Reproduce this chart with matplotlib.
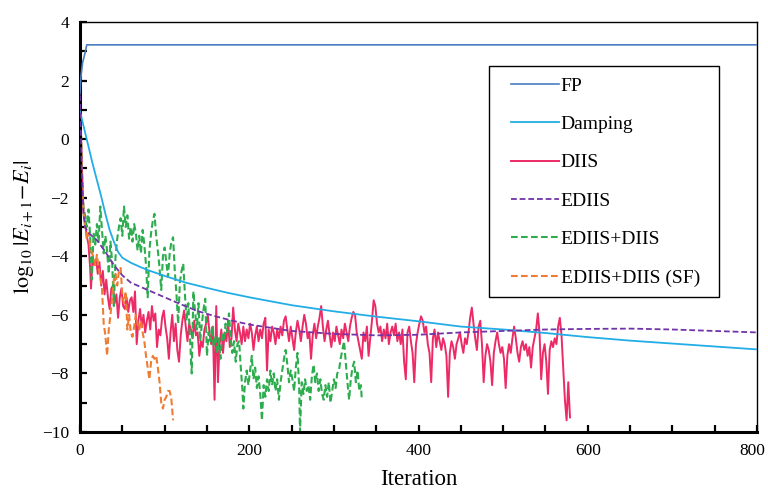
import numpy as np
import matplotlib
matplotlib.use("Agg")
import matplotlib.pyplot as plt
import matplotlib.transforms as mtransforms
from matplotlib.ticker import MultipleLocator
from matplotlib.patches import Rectangle

plt.rcParams['font.family'] = ['Liberation Serif', 'DejaVu Serif']
plt.rcParams['mathtext.fontset'] = 'stix'

# ---------------- data ----------------
fp_x = [0, 1, 3, 6, 8, 800]
fp_y = [1.55, 2.1, 2.6, 2.95, 3.22, 3.22]

damp_x = [0, 5, 10, 15, 20, 25, 30, 35, 40, 45, 50, 60, 70, 80, 100, 125, 150, 175, 200,
          250, 300, 350, 400, 450, 500, 550, 600, 650, 700, 750, 800]
damp_y = [0.95, 0.35, -0.25, -0.85, -1.4, -1.95, -2.55, -3.1, -3.5, -3.85, -4.05, -4.22, -4.35,
          -4.47, -4.67, -4.9, -5.08, -5.25, -5.4, -5.67, -5.88, -6.06, -6.22, -6.4, -6.5, -6.62,
          -6.76, -6.88, -6.98, -7.08, -7.18]

ediis_x = [0, 2, 4, 6, 10, 20, 30, 40, 50, 60, 80, 100, 120, 140, 160, 180, 200, 250, 300,
           350, 400, 450, 500, 550, 600, 650, 700, 750, 800]
ediis_y = [1.5, -1.0, -2.5, -3.0, -3.2, -3.45, -3.85, -4.3, -4.65, -4.9, -5.15, -5.4, -5.65,
           -5.88, -6.05, -6.2, -6.33, -6.55, -6.65, -6.7, -6.68, -6.6, -6.55, -6.5, -6.48,
           -6.47, -6.5, -6.55, -6.6]

diis_x = [0, 2, 4, 6, 8, 10, 12, 13, 15, 17, 19, 21, 23, 25, 27, 29, 31, 33, 35, 37, 39,
          41, 43, 45, 47, 49, 51, 53, 55, 57, 59, 61, 63, 65, 67, 69, 71, 73, 75, 77, 79,
          81, 83, 85, 87, 89, 91, 93, 95, 97, 99, 101, 103, 105, 107, 109, 111, 113, 115,
          117, 119, 121, 123, 125, 127, 129, 131, 133, 135, 137, 139, 141, 143, 145, 147,
          149, 151, 153, 155, 157, 159, 161, 163, 165, 167, 169, 171, 173, 175, 177, 179,
          181, 183, 185, 187, 189, 191, 193, 195, 197, 199, 201, 203, 205, 207, 209, 211,
          213, 215, 217, 219, 221, 223, 225, 227, 229, 231, 233, 235, 237, 239, 241, 243,
          245, 247, 249, 251, 253, 255, 257, 259, 261, 263, 265, 267, 269, 271, 273, 275,
          277, 279, 281, 283, 285, 287, 289, 291, 293, 295, 297, 299, 301, 303, 305, 307,
          309, 311, 313, 315, 317, 319, 321, 323, 325, 327, 329, 331, 333, 335, 337, 339,
          341, 343, 345, 347, 349, 351, 353, 355, 357, 359, 361, 363, 365, 367, 369, 371,
          373, 375, 377, 379, 381, 383, 385, 387, 389, 391, 393, 395, 397, 399, 401, 403,
          405, 407, 409, 411, 413, 415, 417, 419, 421, 423, 425, 427, 429, 431, 433, 435,
          437, 439, 441, 443, 445, 447, 449, 451, 453, 455, 457, 459, 461, 463, 465, 467,
          469, 471, 473, 475, 477, 479, 481, 483, 485, 487, 489, 491, 493, 495, 497, 499,
          501, 503, 505, 507, 509, 511, 513, 515, 517, 519, 521, 523, 525, 527, 529, 531,
          533, 535, 537, 539, 541, 543, 545, 547, 549, 551, 553, 555, 557, 559, 561, 563,
          565, 567, 569, 571, 573, 575, 577, 579]
diis_y = [1.6, -0.8, -2.4, -2.9, -3.3, -3.6, -4.4, -5.1, -4.0, -4.3, -4.1, -4.6, -4.2, -5.0,
          -4.5, -5.3, -4.8, -5.4, -5.8, -5.1, -5.0, -5.6, -5.3, -6.1, -5.4, -5.1, -5.7, -5.8,
          -5.4, -5.9, -5.5, -5.4, -5.9, -5.2, -7.0, -6.2, -5.8, -6.4, -6.0, -6.6, -6.2, -5.9,
          -6.5, -5.7, -6.2, -5.95, -7.1, -6.5, -6.7, -6.1, -5.85, -6.4, -6.8, -7.5, -6.6,
          -6.0, -6.9, -6.3, -7.2, -7.6, -6.7, -6.2, -5.85, -6.4, -6.9, -6.3, -6.5, -6.8,
          -6.2, -6.7, -6.6, -7.4, -6.9, -7.1, -6.5, -6.3, -6.0, -6.6, -7.0, -6.4, -8.9,
          -5.7, -8.3, -7.0, -6.5, -7.3, -6.6, -6.9, -6.2, -7.1, -6.8, -5.75, -6.5, -6.9,
          -6.3, -6.6, -7.0, -6.4, -6.9, -6.5, -6.8, -6.3, -6.6, -7.2, -6.7, -6.4, -6.9,
          -6.5, -6.8, -6.3, -6.1, -7.9, -6.5, -6.9, -6.4, -6.6, -7.0, -6.5, -6.8, -6.4,
          -6.7, -6.2, -6.05, -6.5, -6.9, -6.4, -6.8, -7.2, -6.6, -6.2, -6.5, -6.9, -6.4,
          -6.0, -6.3, -6.8, -6.6, -7.5, -6.7, -6.3, -6.8, -6.4, -6.1, -5.7, -6.4, -6.9,
          -6.5, -6.2, -6.7, -7.1, -6.6, -6.9, -6.4, -6.7, -7.0, -6.5, -6.8, -6.3, -6.6,
          -6.9, -6.4, -6.1, -5.9, -6.0, -6.6, -6.9, -7.2, -7.5, -6.6, -6.9, -6.4, -7.4,
          -6.8, -6.2, -5.5, -5.7, -6.3, -6.6, -6.4, -6.9, -6.5, -6.8, -6.3, -7.0, -6.6,
          -6.4, -6.7, -6.3, -6.9, -6.6, -7.0, -6.5, -7.6, -8.2, -6.6, -6.4, -6.9, -7.3,
          -8.3, -7.0, -6.6, -6.3, -6.05, -6.2, -6.6, -6.4, -7.0, -7.3, -8.3, -6.8, -6.5,
          -7.1, -6.6, -6.9, -7.2, -6.8, -7.0, -7.4, -8.8, -7.3, -6.9, -7.1, -7.5, -7.0,
          -6.8, -6.6, -7.0, -7.3, -6.8, -7.0, -6.6, -6.1, -5.75, -6.3, -6.8, -7.2, -6.4,
          -6.2, -7.0, -8.3, -7.4, -7.0, -7.2, -7.6, -8.4, -7.3, -6.9, -6.6, -7.0, -7.3,
          -7.1, -7.5, -8.5, -7.4, -7.0, -7.3, -6.8, -6.4, -6.8, -7.3, -7.6, -7.1, -6.9,
          -7.2, -7.0, -7.4, -7.1, -7.8, -7.1, -6.8, -6.5, -5.95, -6.6, -8.2, -7.3, -7.0,
          -7.6, -8.7, -7.2, -6.9, -7.1, -6.8, -7.0, -6.4, -6.1, -6.7, -7.8, -8.9, -9.6,
          -8.3, -9.5]

hyb_x = [0, 2, 4, 6, 8, 10, 12, 14, 16, 18, 20, 22, 24, 26, 28, 30, 32, 34, 36, 38, 40,
         42, 44, 46, 48, 50, 52, 54, 56, 58, 60, 62, 64, 66, 68, 70, 72, 74, 76, 78, 80,
         82, 84, 86, 88, 90, 92, 94, 96, 98, 100, 102, 104, 106, 108, 110, 112, 114, 116,
         118, 120, 122, 124, 126, 128, 130, 132, 134, 136, 138, 140, 142, 144, 146, 148,
         150, 152, 154, 156, 158, 160, 162, 164, 166, 168, 170, 172, 174, 176, 178, 180,
         182, 184, 186, 188, 190, 192, 193, 195, 197, 199, 201, 203, 205, 207, 209, 211,
         213, 215, 217, 219, 221, 223, 225, 227, 229, 231, 233, 235, 237, 239, 241, 243,
         245, 247, 249, 251, 253, 255, 257, 259, 260, 262, 264, 266, 268, 270, 272, 274,
         276, 278, 280, 282, 284, 286, 288, 290, 292, 294, 296, 298, 300, 302, 304, 306,
         308, 310, 312, 314, 316, 318, 320, 322, 324, 326, 328, 330, 332, 333]
hyb_y = [1.6, -0.9, -2.3, -2.6, -3.0, -2.4, -3.3, -4.8, -3.2, -3.6, -2.9, -3.5, -2.3, -3.1,
         -3.9, -3.3, -3.8, -4.6, -3.5, -4.2, -5.7, -4.0, -3.4, -3.0, -2.7, -3.3, -2.3, -3.0,
         -2.6, -3.4, -3.0, -3.5, -2.9, -3.2, -3.8, -3.3, -3.9, -3.1, -3.6, -4.3, -5.4, -3.8,
         -3.2, -2.8, -2.55, -3.3, -3.8, -4.4, -5.15, -4.0, -3.7, -4.2, -4.7, -3.9, -3.5,
         -3.35, -4.5, -5.3, -6.3, -4.9, -4.5, -4.25, -5.3, -6.2, -5.6, -6.8, -8.0, -5.2,
         -5.9, -6.5, -5.6, -6.9, -6.3, -5.8, -5.45, -7.4, -6.6, -6.9, -6.4, -7.1, -6.7,
         -7.3, -6.8, -7.5, -6.6, -6.9, -6.3, -6.6, -5.95, -6.8, -7.3, -6.9, -7.6, -7.0,
         -6.9, -7.8, -8.6, -9.2, -8.3, -7.9, -8.4, -7.9, -7.4, -8.2, -7.8, -8.5, -8.1,
         -8.7, -9.6, -8.4, -8.8, -8.2, -8.6, -7.9, -8.4, -8.0, -8.6, -8.2, -8.9, -8.3,
         -7.9, -7.5, -7.2, -7.7, -8.3, -7.9, -8.2, -8.6, -7.8, -7.3, -8.5, -10.0, -8.3,
         -8.7, -8.2, -8.6, -8.4, -8.9, -8.1, -7.7, -8.3, -8.0, -8.6, -8.2, -8.7, -8.9,
         -8.4, -8.8, -8.3, -9.0, -8.6, -8.2, -8.5, -8.0, -7.9, -7.5, -7.2, -6.9, -7.6,
         -8.3, -8.9, -8.2, -7.8, -7.6, -8.3, -7.9, -8.6, -8.4, -8.9]

sf_x = [0, 2, 4, 6, 8, 10, 12, 14, 16, 18, 20, 22, 24, 26, 28, 30, 32, 34, 36, 38, 40, 42,
        44, 46, 48, 50, 52, 54, 56, 58, 60, 62, 64, 66, 68, 70, 72, 74, 76, 78, 80, 82, 84,
        86, 88, 90, 92, 94, 96, 98, 100, 102, 104, 106, 108, 110]
sf_y = [1.6, -0.9, -2.5, -3.0, -3.4, -3.2, -3.7, -3.9, -4.0, -4.3, -3.95, -4.4, -4.7, -5.1,
        -6.3, -6.7, -7.4, -6.5, -6.0, -5.4, -4.8, -4.6, -5.0, -4.5, -4.4, -5.3, -5.6, -5.2,
        -6.5, -6.0, -6.6, -6.75, -6.4, -6.0, -6.3, -6.5, -6.2, -6.6, -6.9, -7.4, -7.8,
        -8.2, -7.6, -7.4, -7.5, -7.4, -7.8, -8.3, -9.0, -9.2, -8.9, -8.8, -8.6, -8.6,
        -8.9, -9.6]

labels = ['FP', 'Damping', 'DIIS', 'EDIIS', 'EDIIS+DIIS', 'EDIIS+DIIS (SF)']
colors = ['#4A7EC2', '#22ADE6', '#EC2A66', '#7034A8', '#2DAD4E', '#EE7D33']

x_ticks = [0, 200, 400, 600, 800]
y_ticks = [-10, -8, -6, -4, -2, 0, 2, 4]

# ---------------- plot ----------------
fig = plt.figure(figsize=(7.68, 4.90), dpi=100)
ax = fig.add_axes([80/768, 1-432/490, 677/768, 410/490])

dash = (0, (3.2, 1.6))
ax.plot(fp_x, fp_y, color=colors[0], lw=1.2, label=labels[0], zorder=3)
ax.plot(damp_x, damp_y, color=colors[1], lw=1.3, label=labels[1], zorder=3)
ax.plot(diis_x, diis_y, color=colors[2], lw=1.4, label=labels[2], zorder=2)
ax.plot(ediis_x, ediis_y, color=colors[3], lw=1.3, ls=dash, label=labels[3], zorder=4)
ax.plot(hyb_x, hyb_y, color=colors[4], lw=1.5, ls=dash, label=labels[4], zorder=2)
ax.plot(sf_x, sf_y, color=colors[5], lw=1.5, ls=dash, label=labels[5], zorder=2)

ax.set_xlim(0, 800)
ax.set_ylim(-10, 4)
ax.set_xticks(x_ticks)
ax.set_yticks(y_ticks)
ax.set_yticklabels([f'{v}'.replace('-', '\u2212') for v in y_ticks])
ax.xaxis.set_minor_locator(MultipleLocator(50))
ax.yaxis.set_minor_locator(MultipleLocator(1))
ax.tick_params(which='both', direction='in', top=False, right=False, labelsize=12.5,
               width=1.6, colors='black')
ax.tick_params(which='major', length=5, pad=8)
ax.tick_params(which='minor', length=5)

# nudge the last x tick label ("800") left so it stays inside the figure
last_lbl = ax.get_xticklabels()[-1]
last_lbl.set_transform(last_lbl.get_transform() +
                       mtransforms.ScaledTranslation(-5/100, 0, fig.dpi_scale_trans))

for s in ['left', 'bottom']:
    ax.spines[s].set_linewidth(2.2)
for s in ['top', 'right']:
    ax.spines[s].set_linewidth(1.0)

ax.set_xlabel('Iteration', fontsize=16.5, labelpad=7)
ax.set_ylabel(r'$\log_{10}|E_{i+1}\!-\!E_{i}|$', fontsize=16, labelpad=4)

# legend frame drawn as a separate box, entries placed inside it
box = Rectangle((0.6041, 0.3293), 0.3397, 0.5634, transform=ax.transAxes,
                facecolor='white', edgecolor='black', lw=1.0, zorder=5)
ax.add_patch(box)
leg = ax.legend(loc='center left', bbox_to_anchor=(0.6366, 0.610), fontsize=14,
                frameon=False, borderpad=0, labelspacing=1.07, handlelength=2.47,
                handletextpad=0.08, borderaxespad=0)
leg.set_zorder(6)

fig.savefig('out.png', dpi=100)
